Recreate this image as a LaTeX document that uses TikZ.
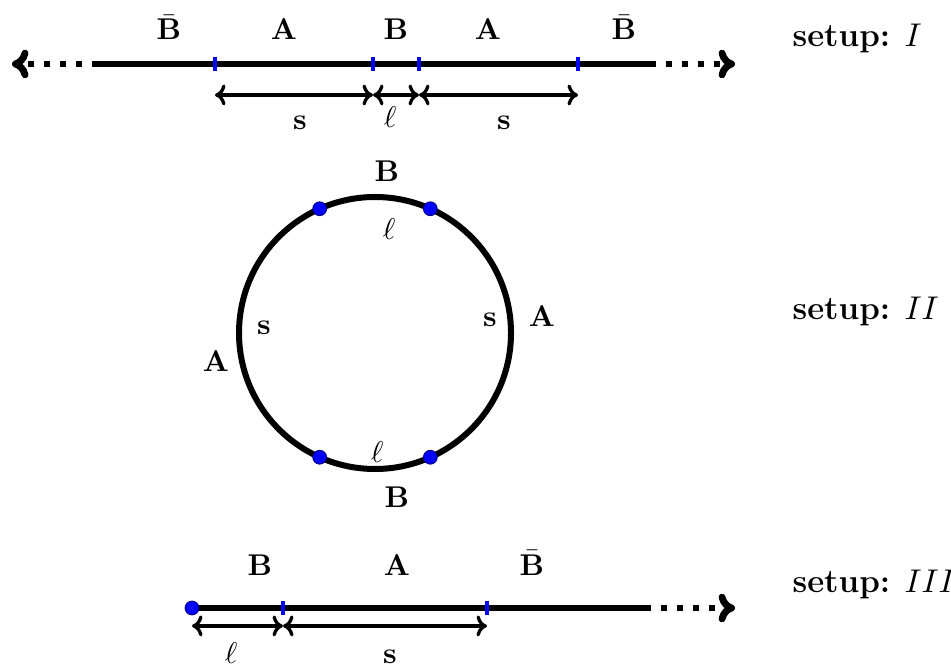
\documentclass[tikz,border=0pt]{standalone}
\usepackage{amsmath,amssymb}
\usepackage{xcolor}
\usepackage{tikz}
\usetikzlibrary{arrows.meta,positioning}
\definecolor{markblue}{RGB}{0,0,255}

\begin{document}
\begin{tikzpicture}[
  x=1.171cm, y=1.171cm,
  axis/.style={line width=2.3pt},
  ray/.style={line width=2.3pt, dash pattern=on 2pt off 3.3pt,
    -{Computer Modern Rightarrow[length=5.5pt,width=9.5pt]}},
  ring/.style={line width=2pt},
  dim/.style={line width=1.1pt,
    {Computer Modern Rightarrow[length=3.5pt,width=7pt]}-{Computer Modern Rightarrow[length=3.5pt,width=7pt]}},
  tick/.style={draw=markblue, line width=1.3pt},
  dot/.style={circle, fill=markblue, draw=markblue!50!black, line width=0.3pt, inner sep=0pt, minimum size=4.6pt},
  lbl/.style={anchor=base, inner sep=0pt},
  setup/.style={anchor=base west, inner sep=0pt, font=\fontsize{11}{13.2}\selectfont}
]
\useasboundingbox (0,0) rectangle (9.51,6.66);

% setup I
\coordinate (Il) at (0.12,6.02);
\coordinate (Ia) at (0.98,6.02);
\coordinate (I1) at (2.15,6.02);
\coordinate (I2) at (3.73,6.02);
\coordinate (I3) at (4.19,6.02);
\coordinate (I4) at (5.78,6.02);
\coordinate (Ib) at (6.50,6.02);
\coordinate (Ir) at (7.35,6.02);
\draw[axis] (Ia) -- (Ib);
\draw[ray] (Ia) -- (Il);
\draw[ray] (Ib) -- (Ir);
\foreach \p in {I1,I2,I3,I4}
  \draw[tick] ([yshift=-0.082cm]\p) -- ([yshift=0.082cm]\p);
\draw[dim] ([yshift=-0.363cm]I1) -- ([yshift=-0.363cm]I2);
\draw[dim] ([yshift=-0.363cm]I2) -- ([yshift=-0.363cm]I3);
\draw[dim] ([yshift=-0.363cm]I3) -- ([yshift=-0.363cm]I4);
\node[lbl] (Ibar1) at (1.69,6.26) {$\bar{\mathbf{B}}$};
\node[lbl] (IA1) at (2.84,6.26) {\textbf{A}};
\node[lbl] (IB) at (3.96,6.26) {\textbf{B}};
\node[lbl] (IA2) at (4.88,6.26) {\textbf{A}};
\node[lbl] (Ibar2) at (6.24,6.26) {$\bar{\mathbf{B}}$};
\node[lbl] (Is1) at (3.00,5.36) {\textbf{s}};
\node[lbl] (Iell) at (3.90,5.38) {$\ell$};
\node[lbl] (Is2) at (5.04,5.36) {\textbf{s}};
\node[setup] (SI) at (7.92,6.19) {\textbf{setup:} $I$};

% setup II
\coordinate (O) at (3.75,3.33);
\draw[ring] (O) circle[radius=1.36];
\foreach \a in {66,114,246,294}
  \path (O) ++(\a:1.36) node[dot] (d\a) {};
\node[lbl] (IIBt) at (3.87,4.84) {\textbf{B}};
\node[lbl] (IIellt) at (3.89,4.26) {$\ell$};
\node[lbl] (IIsl) at (2.64,3.31) {\textbf{s}};
\node[lbl] (IIAl) at (2.16,2.94) {\textbf{A}};
\node[lbl] (IIsr) at (4.90,3.39) {\textbf{s}};
\node[lbl] (IIAr) at (5.42,3.39) {\textbf{A}};
\node[lbl] (IIellb) at (3.77,2.04) {$\ell$};
\node[lbl] (IIBb) at (3.97,1.59) {\textbf{B}};
\node[setup] (SII) at (7.92,3.46) {\textbf{setup:} $II$};

% setup III
\coordinate (III0) at (1.92,0.58);
\coordinate (III1) at (2.83,0.58);
\coordinate (III2) at (4.87,0.58);
\coordinate (IIIb) at (6.45,0.58);
\coordinate (IIIr) at (7.35,0.58);
\draw[axis] (III0) -- (IIIb);
\draw[ray] (IIIb) -- (IIIr);
\foreach \p in {III1,III2}
  \draw[tick] ([yshift=-0.082cm]\p) -- ([yshift=0.082cm]\p);
\node[dot] (IIIdot) at (III0) {};
\draw[dim] ([yshift=-0.21cm]III0) -- ([yshift=-0.21cm]III1);
\draw[dim] ([yshift=-0.21cm]III1) -- ([yshift=-0.21cm]III2);
\node[lbl] (IIIB) at (2.60,0.91) {\textbf{B}};
\node[lbl] (IIIA) at (3.97,0.91) {\textbf{A}};
\node[lbl] (IIIbar) at (5.32,0.91) {$\bar{\mathbf{B}}$};
\node[lbl] (IIIell) at (2.31,0.03) {$\ell$};
\node[lbl] (IIIs) at (3.90,0.03) {\textbf{s}};
\node[setup] (SIII) at (7.92,0.74) {\textbf{setup:} $III$};
\end{tikzpicture}
\end{document}
